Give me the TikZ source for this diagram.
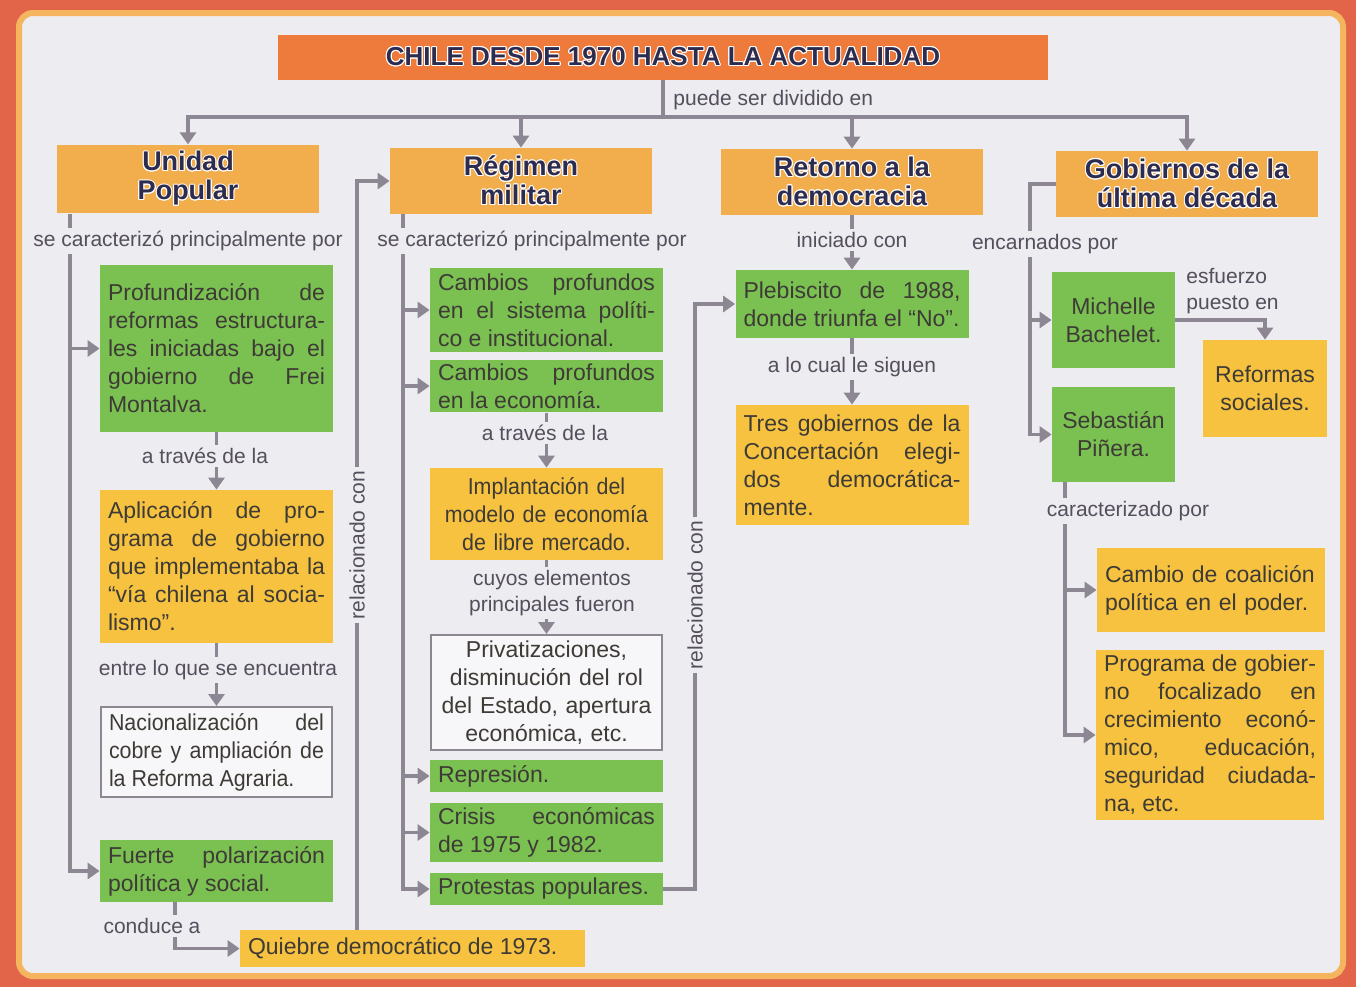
\documentclass[tikz,border=0pt]{standalone}
\usepackage{fontspec}
\setmainfont{Liberation Sans}
\newfontfamily\narrowfont{Liberation Sans}[FakeStretch=0.93]
\newfontfamily\headfont{Liberation Sans}
\usepackage{contour}
\contourlength{0.5pt}
\usetikzlibrary{arrows.meta}

\definecolor{frame}{HTML}{E2654A}
\definecolor{rim}{HTML}{F5B55E}
\definecolor{panel}{HTML}{EDECF0}
\definecolor{titleor}{HTML}{EE7B3C}
\definecolor{heador}{HTML}{F2AE4C}
\definecolor{boxyel}{HTML}{F6C23F}
\definecolor{boxgrn}{HTML}{7BC152}
\definecolor{wire}{HTML}{8C8792}
\definecolor{ink}{HTML}{3E3B36}
\definecolor{lblink}{HTML}{544F5C}
\definecolor{navy}{HTML}{2E2C4E}

\newcommand\bodyfont{\fontsize{11.5}{14}\selectfont\hyphenpenalty=10000}
\newcommand\lblfont{\fontsize{10.5}{13}\selectfont}
\newcommand\hd[1]{\contour{white}{#1}}

\tikzset{
  title/.style={fill=titleor, minimum width=385pt, minimum height=22.5pt,
    font=\headfont\bfseries\fontsize{13}{14}\selectfont, text=navy},
  head/.style={fill=heador, minimum width=131pt, minimum height=33pt, align=center,
    font=\headfont\bfseries\fontsize{13.5}{14.5}\selectfont, text=navy},
  box/.style={inner xsep=4pt, inner ysep=2pt, font=\bodyfont, text=ink,
    align=justify, text width=108.5pt},
  grn/.style={box, fill=boxgrn},
  yel/.style={box, fill=boxyel},
  wht/.style={box, fill=white!55!panel, draw=wire, line width=1pt},
  lbl/.style={font=\lblfont, text=lblink, inner sep=1.5pt, align=center},
  wire/.style={draw=wire, line width=1.7pt},
}

\begin{document}
\begin{tikzpicture}[x=0.5pt,y=-0.5pt,>={Triangle[width=8pt,length=6pt]}]
  \useasboundingbox (0,0) rectangle (1356,987);
  \fill[frame] (0,0) rectangle (1356,987);
  \draw[rim, line width=3pt, fill=panel, rounded corners=7pt] (19,13) rectangle (1343,976);

  % title and the four periods
  \node[title] (T) at (663,57) {\hd{CHILE DESDE 1970 HASTA LA ACTUALIDAD}};
  \node[lbl, anchor=west] (lT) at (670,100) {puede ser dividido en};
  \node[head] (UP) at (188,179) {\hd{Unidad}\\\hd{Popular}};
  \node[head] (RM) at (521,181) {\hd{Régimen}\\\hd{militar}};
  \node[head] (RD) at (852,182) {\hd{Retorno a la}\\\hd{democracia}};
  \node[head] (GU) at (1187,184) {\hd{Gobiernos de la}\\\hd{última década}};

  % Unidad Popular
  \node[lbl] (lUP) at (188,241) {se caracterizó principalmente por};
  \node[grn, minimum height=83.5pt] (PF) at (216.5,348.5) {Profundización de\linebreak reformas estructura-\linebreak les iniciadas bajo el\linebreak gobierno de Frei\linebreak Montalva.};
  \node[lbl] (lPF) at (205,456) {a través de la};
  \node[yel, minimum height=76.5pt] (AP) at (216.5,566.5) {Aplicación de pro-\linebreak grama de gobierno\linebreak que implementaba la\linebreak “vía chilena al socia-\linebreak lismo”.};
  \node[lbl] (lAP) at (218,670) {entre lo que se encuentra};
  \node[wht, text width=107.5pt, minimum height=45pt, font=\bodyfont\narrowfont] (NA) at (216.5,752) {Nacionalización del\linebreak cobre y ampliación de\linebreak la Reforma Agraria.};
  \node[grn, minimum height=31pt] (FP) at (216.5,871) {Fuerte polarización\linebreak política y social.};
  \node[lbl] (lFP) at (152,926) {conduce a};
  \node[yel, text width=164.5pt, minimum height=18.5pt] (QD) at (412.5,948.5) {Quiebre democrático de 1973.};
  \node[lbl, rotate=90] (lRel1) at (357,545) {relacionado con};

  % Regimen militar
  \node[lbl] (lRM) at (532,241) {se caracterizó principalmente por};
  \node[grn, minimum height=42pt] (CS) at (546.5,310) {Cambios profundos\linebreak en el sistema políti-\linebreak co e institucional.};
  \node[grn, minimum height=26pt] (CE) at (546.5,386) {Cambios profundos\linebreak en la economía.};
  \node[lbl] (lCE) at (545,433) {a través de la};
  \node[yel, align=center, minimum height=46pt, font=\bodyfont\narrowfont] (IM) at (546.5,514) {Implantación del\\modelo de economía\\de libre mercado.};
  \node[lbl] (lIM) at (552,593) {cuyos elementos\\principales fueron};
  \node[wht, align=center, text width=107.5pt, minimum height=57.5pt] (PR) at (546.5,692.5) {Privatizaciones,\\disminución del rol\\del Estado, apertura\\económica, etc.};
  \node[grn, minimum height=16pt] (RE) at (546.5,776) {Represión.};
  \node[grn, minimum height=29.5pt] (CR) at (546.5,832.5) {Crisis económicas\linebreak de 1975 y 1982.};
  \node[grn, minimum height=16pt] (PP) at (546.5,889) {Protestas populares.};
  \node[lbl, rotate=90] (lRel2) at (695,595) {relacionado con};

  % Retorno a la democracia
  \node[lbl] (lRD) at (852,240) {iniciado con};
  \node[grn, minimum height=34pt] (PL) at (852,304) {Plebiscito de 1988,\linebreak donde triunfa el “No”.};
  \node[lbl] (lPL) at (852,367) {a lo cual le siguen};
  \node[yel, minimum height=60pt] (TG) at (852,465) {Tres gobiernos de la\linebreak Concertación elegi-\linebreak dos democrática-\linebreak mente.};

  % Gobiernos de la ultima decada
  \node[lbl] (lGU) at (1045,244) {encarnados por};
  \node[grn, align=center, text width=53.5pt, minimum height=48pt] (MB) at (1113.5,320) {Michelle\\Bachelet.};
  \node[grn, align=center, text width=53.5pt, minimum height=47.5pt] (SP) at (1113.5,434.5) {Sebastián\\Piñera.};
  \node[lbl, align=left, anchor=west] (lMB) at (1183,291) {esfuerzo\\puesto en};
  \node[yel, align=center, text width=54pt, minimum height=48.5pt] (RS) at (1265,388.5) {Reformas\\sociales.};
  \node[lbl] (lSP) at (1128,511) {caracterizado por};
  \node[yel, align=left, text width=106pt, minimum height=42pt] (CC) at (1211,590) {Cambio de coalición\\política en el poder.};
  \node[yel, text width=106pt, minimum height=85pt] (PG) at (1210,735) {Programa de gobier-\linebreak no focalizado en\linebreak crecimiento econó-\linebreak mico, educación,\linebreak seguridad ciudada-\linebreak na, etc.};

  % connectors
  \coordinate (hub) at (663,117);
  \coordinate (sUP) at (70,0);
  \coordinate (sRM) at (403,0);
  \coordinate (sFP) at (175,0);
  \coordinate (sGU) at (1030,0);
  \coordinate (sSP) at (1065,0);

  \draw[wire] (T.south) -- (hub);
  \draw[wire,->] (hub) -| (UP.north);
  \draw[wire,->] (hub) -| (RM.north);
  \draw[wire,->] (hub) -| (RD.north);
  \draw[wire,->] (hub) -| (GU.north);

  \draw[wire] (UP.south -| sUP) -- (lUP.north -| sUP);
  \draw[wire,->] (lUP.south -| sUP) |- (PF.west);
  \draw[wire,->] (lUP.south -| sUP) |- (FP.west);
  \draw[wire] (PF.south) -- (lPF.north -| PF.south);
  \draw[wire,->] (lPF.south -| AP.north) -- (AP.north);
  \draw[wire] (AP.south) -- (lAP.north -| AP.south);
  \draw[wire,->] (lAP.south -| NA.north) -- (NA.north);
  \draw[wire] (FP.south -| sFP) -- (lFP.north -| sFP);
  \draw[wire,->] (lFP.south -| sFP) |- (QD.west);
  \draw[wire] (QD.north -| lRel1.west) -- (lRel1.west);
  \draw[wire,->] (lRel1.east) |- (RM.west);

  \draw[wire] (RM.south -| sRM) -- (lRM.north -| sRM);
  \foreach \t in {CS,CE,RE,CR,PP}
    \draw[wire,->] (lRM.south -| sRM) |- (\t.west);
  \draw[wire] (CE.south) -- (lCE.north -| CE.south);
  \draw[wire,->] (lCE.south -| IM.north) -- (IM.north);
  \draw[wire] (IM.south) -- (lIM.north -| IM.south);
  \draw[wire,->] (lIM.south -| PR.north) -- (PR.north);
  \draw[wire] (PP.east) -| (lRel2.west);
  \draw[wire,->] (lRel2.east) |- (PL.west);

  \draw[wire] (RD.south) -- (lRD.north);
  \draw[wire,->] (lRD.south) -- (PL.north);
  \draw[wire] (PL.south) -- (lPL.north);
  \draw[wire,->] (lPL.south) -- (TG.north);

  \draw[wire] (GU.west) -| (lGU.north -| sGU);
  \draw[wire,->] (lGU.south -| sGU) |- (MB.west);
  \draw[wire,->] (lGU.south -| sGU) |- (SP.west);
  \draw[wire,->] (MB.east) -| (RS.north);
  \draw[wire] (SP.south -| sSP) -- (lSP.north -| sSP);
  \draw[wire,->] (lSP.south -| sSP) |- (CC.west);
  \draw[wire,->] (lSP.south -| sSP) |- (PG.west);
\end{tikzpicture}
\end{document}
